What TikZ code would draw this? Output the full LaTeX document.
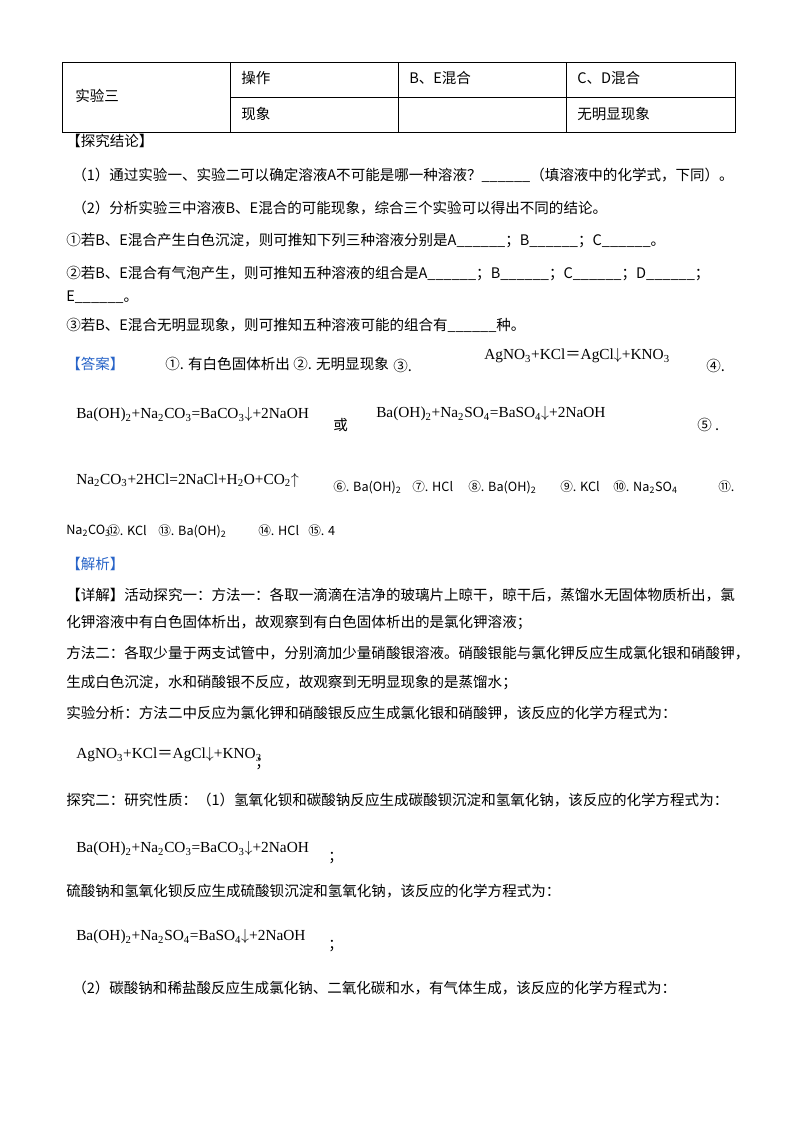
\documentclass[tikz,border=0pt]{standalone}
\usepackage{fontspec}
\setmainfont{Noto Sans CJK SC}
\newfontfamily\cjk{Noto Sans CJK SC}
\newfontfamily\tms{Liberation Serif}
\newcommand{\sbs}[1]{\textsubscript{#1}}
\newcommand{\eqs}{{\cjk ＝}}
\definecolor{ansblue}{RGB}{40,100,200}
\begin{document}
\begin{tikzpicture}[x=0.75pt,y=-0.75pt,
  t/.style={anchor=west,inner sep=0pt,font=\fontsize{10.9}{12}\selectfont},
  eq/.style={anchor=west,inner sep=0pt,font=\tms\fontsize{11.5}{13}\selectfont},
  sm/.style={anchor=west,inner sep=0pt,font=\cjk\fontsize{9.5}{11}\selectfont},
  bl/.style={t,text=ansblue}]
\useasboundingbox (0,0) rectangle (800,1132);
\fill[white] (0,0) rectangle (800,1132);
% table
\draw[line width=0.6pt] (62,62) rectangle (735,132);
\draw[line width=0.6pt] (230,97) -- (735,97);
\foreach \x in {230,398,566} \draw[line width=0.6pt] (\x,62) -- (\x,132);
\node[t] (c1) at (75,96) {实验三};
\node[t] (c2) at (241,78) {操作};
\node[t] (c3) at (409,78) {B、E混合};
\node[t] (c4) at (577,78) {C、D混合};
\node[t] (c5) at (241,114) {现象};
\node[t] (c6) at (577,114) {无明显现象};
% conclusions
\node[t] (l1) at (66,141) {【探究结论】};
\node[t] (l2) at (72,175) {（1）通过实验一、实验二可以确定溶液A不可能是哪一种溶液？\_\_\_\_\_\_（填溶液中的化学式，下同）。};
\node[t] (l3) at (72,208) {（2）分析实验三中溶液B、E混合的可能现象，综合三个实验可以得出不同的结论。};
\node[t] (l4) at (66,241) {①若B、E混合产生白色沉淀，则可推知下列三种溶液分别是A\_\_\_\_\_\_；B\_\_\_\_\_\_；C\_\_\_\_\_\_。};
\node[t] (l5) at (66,274) {②若B、E混合有气泡产生，则可推知五种溶液的组合是A\_\_\_\_\_\_；B\_\_\_\_\_\_；C\_\_\_\_\_\_；D\_\_\_\_\_\_；};
\node[t] (l6) at (66,297) {E\_\_\_\_\_\_。};
\node[t] (l7) at (66,325) {③若B、E混合无明显现象，则可推知五种溶液可能的组合有\_\_\_\_\_\_种。};
% answers
\node[bl] (a0) at (66,364) {【答案】};
\node[t] (a1) at (165,364) {①. 有白色固体析出};
\node[t] (a2) at (293,364) {②. 无明显现象};
\node[t] (a3) at (393,366) {③.};
\node[eq] (a3e) at (484,356) {AgNO\sbs{3}+KCl\eqs AgCl$\downarrow$+KNO\sbs{3}};
\node[t] (a4) at (706,366) {④.};
\node[eq] (a4e) at (76,415) {Ba(OH)\sbs{2}+Na\sbs{2}CO\sbs{3}=BaCO\sbs{3}$\downarrow$+2NaOH};
\node[t] (or) at (333,425) {或};
\node[eq] (a4f) at (376,414) {Ba(OH)\sbs{2}+Na\sbs{2}SO\sbs{4}=BaSO\sbs{4}$\downarrow$+2NaOH};
\node[t] (a5) at (697,425) {⑤ .};
\node[eq] (a5e) at (76,480) {Na\sbs{2}CO\sbs{3}+2HCl=2NaCl+H\sbs{2}O+CO\sbs{2}$\uparrow$};
\node[sm] (a6) at (333,487) {⑥. Ba(OH)\sbs{2}};
\node[sm] (a7) at (412,487) {⑦. HCl};
\node[sm] (a8) at (468,487) {⑧. Ba(OH)\sbs{2}};
\node[sm] (a9) at (560,487) {⑨. KCl};
\node[sm] (a10) at (613,487) {⑩. Na\sbs{2}SO\sbs{4}};
\node[sm] (a11) at (718,487) {⑪.};
\node[sm] (b0) at (66,531) {Na\sbs{2}CO\sbs{3}};
\node[sm] (a12) at (107,531) {⑫. KCl};
\node[sm] (a13) at (158,531) {⑬. Ba(OH)\sbs{2}};
\node[sm] (a14) at (258,531) {⑭. HCl};
\node[sm] (a15) at (308,531) {⑮. 4};
% analysis
\node[bl] (j0) at (66,564) {【解析】};
\node[t] (j1) at (66,595) {【详解】活动探究一：方法一：各取一滴滴在洁净的玻璃片上晾干，晾干后，蒸馏水无固体物质析出，氯};
\node[t] (j2) at (66,623) {化钾溶液中有白色固体析出，故观察到有白色固体析出的是氯化钾溶液；};
\node[t] (j3) at (66,653) {方法二：各取少量于两支试管中，分别滴加少量硝酸银溶液。硝酸银能与氯化钾反应生成氯化银和硝酸钾，};
\node[t] (j4) at (66,682) {生成白色沉淀，水和硝酸银不反应，故观察到无明显现象的是蒸馏水；};
\node[t] (j5) at (66,713) {实验分析：方法二中反应为氯化钾和硝酸银反应生成氯化银和硝酸钾，该反应的化学方程式为：};
\node[eq] (j6) at (76,755) {AgNO\sbs{3}+KCl\eqs AgCl$\downarrow$+KNO\sbs{3}};
\node[t] (j6s) at (255,764) {；};
\node[t] (j7) at (66,800) {探究二：研究性质：（1）氢氧化钡和碳酸钠反应生成碳酸钡沉淀和氢氧化钠，该反应的化学方程式为：};
\node[eq] (j8) at (76,849) {Ba(OH)\sbs{2}+Na\sbs{2}CO\sbs{3}=BaCO\sbs{3}$\downarrow$+2NaOH};
\node[t] (j8s) at (328,858) {；};
\node[t] (j9) at (66,891) {硫酸钠和氢氧化钡反应生成硫酸钡沉淀和氢氧化钠，该反应的化学方程式为：};
\node[eq] (j10) at (76,937) {Ba(OH)\sbs{2}+Na\sbs{2}SO\sbs{4}=BaSO\sbs{4}$\downarrow$+2NaOH};
\node[t] (j10s) at (328,946) {；};
\node[t] (j11) at (72,988) {（2）碳酸钠和稀盐酸反应生成氯化钠、二氧化碳和水，有气体生成，该反应的化学方程式为：};
\end{tikzpicture}
\end{document}
